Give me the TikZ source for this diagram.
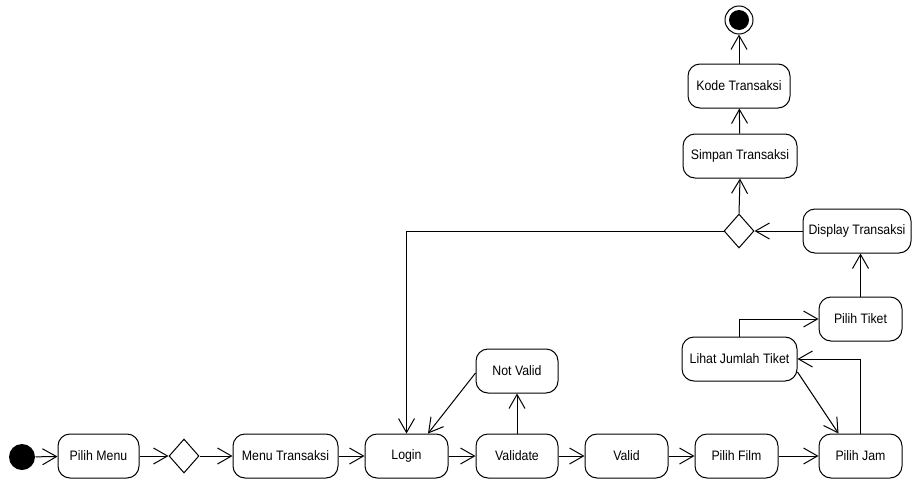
\documentclass[tikz,border=0pt]{standalone}
\usepackage{fontspec}
\setmainfont{Liberation Sans}[FakeStretch=0.9]
\usetikzlibrary{arrows.meta,shapes.geometric,calc}
\begin{document}
\begin{tikzpicture}[x=1pt,y=-1pt, line width=1pt,
 act/.style={draw, rounded corners=12pt, minimum height=44pt, inner sep=0pt, font=\fontsize{13.7}{15}\selectfont},
 dec/.style={draw, diamond, minimum width=30pt, minimum height=34pt, inner sep=0pt},
 arr/.style={-{Straight Barb[length=14pt,width=16pt]}}]
\useasboundingbox (0,0) rectangle (912,479);
\node[circle, fill, minimum size=26pt, inner sep=0pt] (start) at (22,457) {};
\node[act, minimum width=81pt] (pm) at (98.5,456) {Pilih Menu};
\node[dec] (d1) at (184,456) {};
\node[act, minimum width=105pt] (mt) at (285.5,456) {Menu Transaksi};
\node[act, minimum width=83pt] (login) at (406.5,456) {Login};
\node[act, minimum width=82pt] (val) at (517,456) {Validate};
\node[act, minimum width=83pt] (valid) at (626.5,456) {Valid};
\node[act, minimum width=83pt] (film) at (736.5,456) {Pilih Film};
\node[act, minimum width=83pt] (jam) at (860.5,456) {Pilih Jam};
\node[act, minimum width=82pt] (nv) at (517,371) {Not Valid};
\node[act, minimum width=115pt] (lihat) at (739.5,359) {Lihat Jumlah Tiket};
\node[act, minimum width=83pt] (tiket) at (860.5,319) {Pilih Tiket};
\node[act, minimum width=108pt] (disp) at (857,231) {Display Transaksi};
\node[dec] (d2) at (739,231) {};
\node[act, minimum width=114pt] (simpan) at (740,156) {Simpan Transaksi};
\node[act, minimum width=102pt] (kode) at (739,86) {Kode Transaksi};
\node[circle, draw, minimum size=28pt, inner sep=0pt] (end) at (739,20) {};
\node[circle, fill, minimum size=20pt, inner sep=0pt] (endin) at (end.center) {};

\draw[arr] (start) -- (pm);
\draw[arr] (pm) -- (d1);
\draw[arr] (d1) -- (mt);
\draw[arr] (mt) -- (login);
\draw[arr] (login) -- (val);
\draw[arr] (val) -- (valid);
\draw[arr] (valid) -- (film);
\draw[arr] (film) -- (jam);
\draw[arr] (val) -- (nv);
\draw[arr] ([yshift=-2pt]nv.west) -- ([xshift=21.5pt]login.north);
\draw[arr] (jam.north) |- (lihat.east);
\draw[arr] (lihat.north) |- (tiket.west);
\draw[arr] ([yshift=-13pt]lihat.east) -- ([xshift=-22pt]jam.north);
\draw[arr] (tiket.north) -- (tiket.north |- disp.south);
\draw[arr] (disp.west) -- (d2.east);
\draw[arr] (d2.west) -| (login.north);
\draw[arr] (d2.north) -- (simpan.south);
\draw[arr] (simpan) -- (kode);
\draw[arr] (kode) -- (end);
\end{tikzpicture}
\end{document}
